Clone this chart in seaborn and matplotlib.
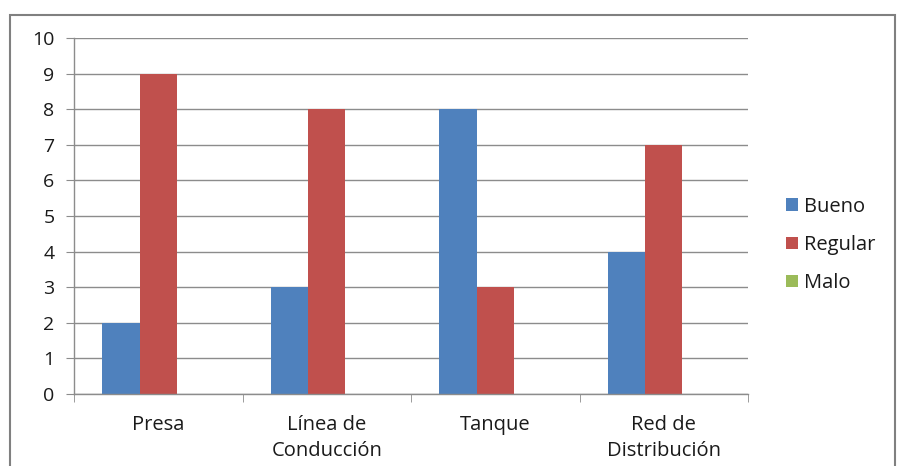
import matplotlib
matplotlib.use('Agg')
import matplotlib.pyplot as plt
import seaborn as sns
import pandas as pd
from matplotlib.patches import Rectangle, Patch

# --- datos ---
componentes = ['Presa', 'Línea de\nConducción', 'Tanque', 'Red de\nDistribución']
bueno = [2, 3, 8, 4]
regular = [9, 8, 3, 7]
malo = [0, 0, 0, 0]
estados = ['Bueno', 'Regular', 'Malo']
colores = ['#4F81BD', '#C0504D', '#9BBB59']

df = pd.DataFrame({
    'componente': componentes * 3,
    'estado': [e for e in estados for _ in componentes],
    'valor': bueno + regular + malo,
})

sns.set_style('white')
plt.rcParams['font.family'] = ['Open Sans', 'DejaVu Sans']

fig = plt.figure(figsize=(8.99, 4.66), dpi=100)
ax = fig.add_axes([74 / 899, 1 - 394 / 466, (748 - 74) / 899, (394 - 38) / 466])

sns.barplot(data=df, x='componente', y='valor', hue='estado', hue_order=estados,
            palette=colores, width=0.667, linewidth=0, saturation=1,
            errorbar=None, legend=False, ax=ax)

# ejes estilo Excel
ax.set_xlim(-0.5, 3.5)
ax.set_ylim(0, 10)
ax.set_yticks(range(0, 11))
ax.yaxis.grid(True, color='#8C8C8C', linewidth=1)
ax.set_axisbelow(True)
for s in ['top', 'right']:
    ax.spines[s].set_visible(False)
for s in ['left', 'bottom']:
    ax.spines[s].set_color('#8C8C8C')
    ax.spines[s].set_linewidth(1)
ax.set_xlabel('')
ax.set_ylabel('')
ax.tick_params(axis='y', which='major', length=6, color='#8C8C8C', direction='out',
               left=True, labelsize=14, pad=8, labelcolor='#1A1A1A')
ax.tick_params(axis='x', which='major', length=0, labelsize=14.5, pad=15, labelcolor='#1A1A1A')
ax.set_xticks([-0.5, 0.5, 1.5, 2.5, 3.5], minor=True)
ax.tick_params(axis='x', which='minor', length=6, color='#8C8C8C', direction='out', bottom=True)
for lbl in ax.get_xticklabels():
    lbl.set_linespacing(1.4)

handles = [Patch(facecolor=c, edgecolor='none') for c in colores]
fig.legend(handles, estados, loc='center left', bbox_to_anchor=(786 / 899, 1 - 245 / 466),
           frameon=False, fontsize=14.5, handlelength=0.6, handleheight=0.6,
           handletextpad=0.3, labelspacing=0.9, borderpad=0, borderaxespad=0,
           labelcolor='#1A1A1A')

# marco del gráfico
fig.patches.append(Rectangle((10 / 899, -0.01), 885 / 899, 1 - 15 / 466 + 0.01,
                             transform=fig.transFigure, fill=False,
                             edgecolor='#808080', linewidth=1.5))

fig.savefig('out.png', dpi=100)
